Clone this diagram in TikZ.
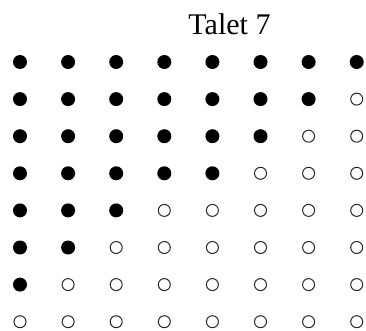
\documentclass[tikz,border=0pt]{standalone}
\usepackage{fontspec}
\setmainfont{Liberation Serif}
\begin{document}
\begin{tikzpicture}[x=1pt,y=-1pt,
  fulldot/.style={circle,fill=black,inner sep=0pt,minimum size=14pt},
  emptydot/.style={circle,draw=black!85,line width=1pt,inner sep=0pt,minimum size=12pt}]
\useasboundingbox (0,0) rectangle (366,331);
\node[anchor=base,font=\fontsize{30}{36}\selectfont] (title) at (229.5,35) {Talet 7};
% row / number of filled dots
\foreach \i/\n in {0/8,1/7,2/6,3/5,4/3,5/2,6/1,7/0} {
  \foreach \j in {0,...,7} {
    \ifnum\j<\n
      \node[fulldot] (d-\i-\j) at (20+48.1*\j,62+37.1*\i) {};
    \else
      \node[emptydot] (d-\i-\j) at (20+48.1*\j,62+37.1*\i) {};
    \fi
  }
}
\end{tikzpicture}
\end{document}
